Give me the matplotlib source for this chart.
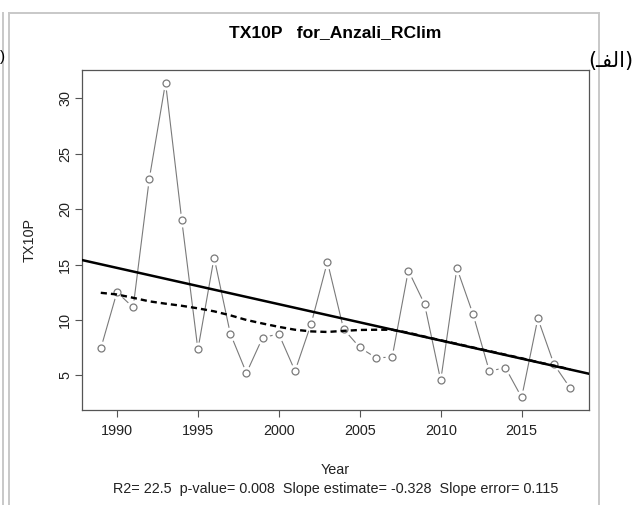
#!/usr/bin/env python3
import numpy as np
import matplotlib
matplotlib.use("Agg")
import matplotlib.pyplot as plt
from matplotlib.lines import Line2D

years = list(range(1989, 2019))
tx10p = [7.43, 12.51, 11.13, 22.75, 31.4, 19.03, 7.34, 15.63, 8.78, 5.22,
         8.42, 8.73, 5.4, 9.68, 15.24, 9.18, 7.52, 6.59, 6.65, 14.46,
         11.43, 4.55, 14.67, 10.5, 5.4, 5.69, 3.02, 10.14, 5.99, 3.86]
# lowess curve
smooth = [12.45, 12.3, 12.0, 11.68, 11.47, 11.28, 11.05, 10.78, 10.42, 10.0,
          9.68, 9.38, 9.12, 8.97, 8.92, 9.02, 9.1, 9.12, 9.12, 8.85,
          8.5, 8.17, 7.85, 7.52, 7.2, 6.87, 6.55, 6.2, 5.88, 5.55]
xticks = [1990, 1995, 2000, 2005, 2010, 2015]
yticks = [5, 10, 15, 20, 25, 30]
title = "TX10P   for_Anzali_RClim"
stats = "R2= 22.5  p-value= 0.008  Slope estimate= -0.328  Slope error= 0.115"

W, H = 634, 505
plt.rcParams["font.family"] = ["Liberation Sans", "DejaVu Sans"]


def fx(px):
    return px / W


def fy(py):
    return 1 - py / H


def main():
    fig = plt.figure(figsize=(W / 100, H / 100), dpi=100)
    ax = fig.add_axes([fx(82), fy(410), fx(589) - fx(82), fy(70) - fy(410)])

    x = np.array(years, dtype=float)
    y = np.array(tx10p)
    xpad = 0.04 * (x.max() - x.min())
    ypad = 0.04 * (y.max() - y.min())
    ax.set_xlim(x.min() - xpad, x.max() + xpad)
    ax.set_ylim(y.min() - ypad, y.max() + ypad)

    grey = "#7a7a7a"
    # type="b": line with gaps around the points
    ax.plot(x, y, color=grey, lw=0.8, zorder=1)
    ax.plot(x, y, ls="none", marker="o", ms=10, mfc="white", mec="none", zorder=2)
    ax.plot(x, y, ls="none", marker="o", ms=5, mfc="white", mec=grey, mew=0.9, zorder=3)

    slope, icpt = np.polyfit(x, y, 1)
    xl = np.array(ax.get_xlim())
    ax.plot(xl, icpt + slope * xl, color="black", lw=1.8, zorder=4)
    ax.plot(x, smooth, color="black", lw=1.7, dashes=(2.6, 1.7), zorder=4)

    ax.set_xticks(xticks)
    ax.set_yticks(yticks)
    for s in ax.spines.values():
        s.set_color("#555555")
        s.set_linewidth(0.9)
    ax.tick_params(axis="both", length=5, width=0.8, color="#555555",
                   labelsize=10.4, labelcolor="#222222")
    ax.tick_params(axis="x", pad=5)
    ax.tick_params(axis="y", pad=2, labelrotation=90)
    for lab in ax.get_yticklabels():
        lab.set_va("center")

    cx = fx((82 + 589) / 2)
    fig.text(cx, fy(33), title, ha="center", va="center",
             fontsize=12.6, fontweight="bold")
    fig.text(fx(30), fy(240), "TX10P", rotation=90, ha="center", va="center",
             fontsize=10.4, color="#222222")
    fig.text(cx, fy(470), "Year", ha="center", va="center",
             fontsize=10.4, color="#222222")
    fig.text(cx, fy(489), stats, ha="center", va="center",
             fontsize=10.4, color="#222222")

    # surrounding document frame
    fc = "#c8c8c8"
    fig.add_artist(Line2D([fx(3), fx(3)], [fy(13), 0], color=fc, lw=1.4))
    fig.add_artist(Line2D([fx(9), fx(9)], [fy(13), 0], color=fc, lw=1.4))
    fig.add_artist(Line2D([fx(9), fx(599)], [fy(13), fy(13)], color=fc, lw=1.4))
    fig.add_artist(Line2D([fx(599), fx(599)], [fy(13), 0], color=fc, lw=1.4))

    # panel label (الف) in visual order with presentation forms
    label = "(" + "\u0640\uFED4\uFEDF\uFE8D" + ")"
    fig.text(fx(633), fy(61), label, ha="right", va="center", fontsize=15,
             family=["DejaVu Sans"])
    fig.text(fx(0), fy(57), ")", ha="left", va="center", fontsize=11)

    fig.savefig("out.png", dpi=100)


if __name__ == "__main__":
    main()
